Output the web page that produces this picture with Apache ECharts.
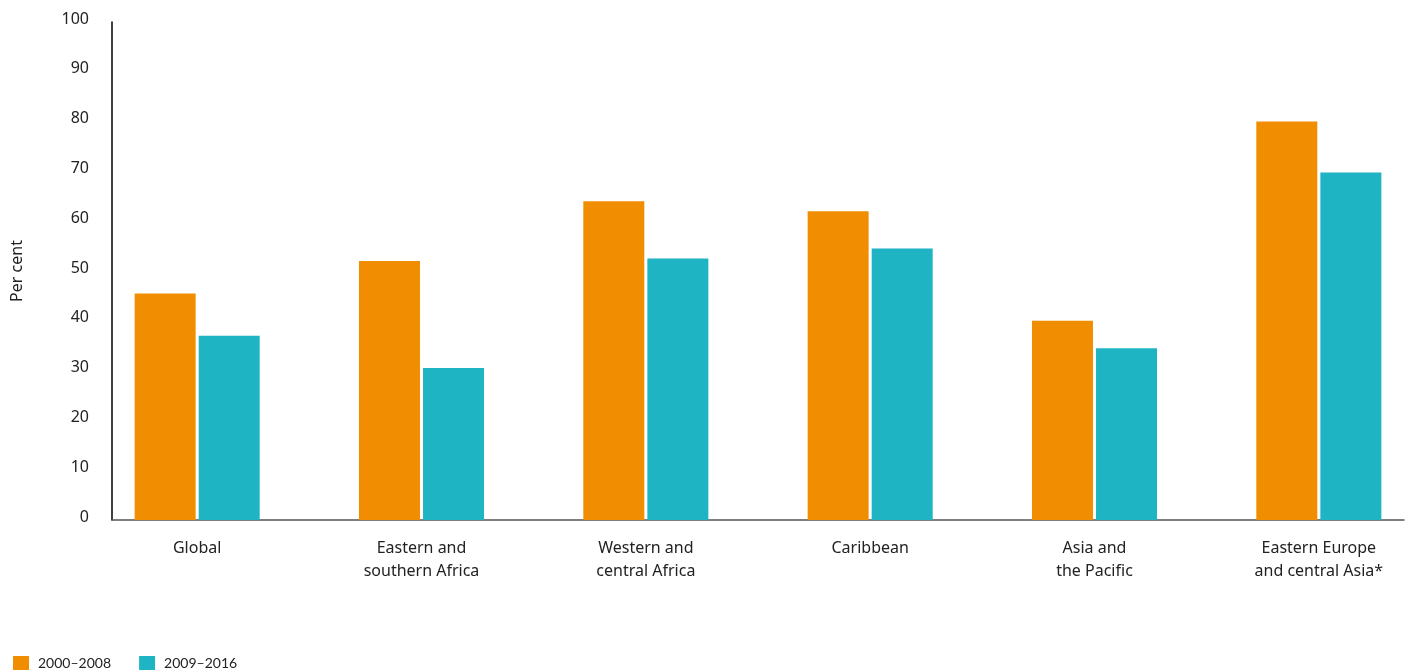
<!DOCTYPE html>
<html>
<head>
<meta charset="utf-8">
<script src="https://cdn.jsdelivr.net/npm/echarts@6/dist/echarts.min.js"></script>
<style>
html,body{margin:0;padding:0;background:#fff;}
#chart{width:1408px;height:671px;}
</style>
</head>
<body>
<div id="chart"></div>
<script>
var categories = ['Global', 'Eastern and\nsouthern Africa', 'Western and\ncentral Africa', 'Caribbean', 'Asia and\nthe Pacific', 'Eastern Europe\nand central Asia*'];
var seriesNames = ['2000–2008', '2009–2016'];
var values2000_2008 = [45.5, 52, 64, 62, 40, 80];
var values2009_2016 = [37, 30.5, 52.5, 54.5, 34.5, 69.8];
var yTicks = [0, 10, 20, 30, 40, 50, 60, 70, 80, 90, 100];

var FONT = '"Noto Sans", Lato, sans-serif';
var chart = echarts.init(document.getElementById('chart'), null, {renderer: 'canvas'});
chart.setOption({
  animation: false,
  color: ['#F18D00', '#1FB4C3'],
  textStyle: {fontFamily: FONT},
  legend: {
    left: 8, top: 651, itemWidth: 16, itemHeight: 14, itemGap: 28,
    icon: 'rect',
    textStyle: {fontSize: 14, color: '#222', fontFamily: 'Lato, sans-serif', padding: [0, 0, 0, 4]},
    data: seriesNames
  },
  grid: [
    {left: 85, width: 1346, top: 22, height: 498, containLabel: false, outerBoundsMode: 'none'},
    {left: 112, right: 4, top: 22, height: 498, containLabel: false, outerBoundsMode: 'none'}
  ],
  xAxis: [
    {
      type: 'category', gridIndex: 0, data: categories,
      axisLine: {show: false}, axisTick: {show: false},
      axisLabel: {fontSize: 16, color: '#222', lineHeight: 23, margin: 17, fontFamily: FONT}
    },
    {
      type: 'value', gridIndex: 1, min: 0, max: 1,
      axisLine: {show: true, lineStyle: {color: '#555', width: 1.5}},
      axisTick: {show: false}, axisLabel: {show: false}, splitLine: {show: false}
    }
  ],
  yAxis: [
    {type: 'value', gridIndex: 0, min: 0, max: 100, interval: 10, show: false},
    {
      type: 'value', gridIndex: 1, min: yTicks[0], max: yTicks[yTicks.length - 1], interval: 10,
      name: 'Per cent', nameLocation: 'middle', nameGap: 87, nameRotate: 90,
      nameTextStyle: {fontSize: 16, color: '#222', fontFamily: FONT},
      axisLine: {show: true, lineStyle: {color: '#000', width: 1.5}},
      axisTick: {show: false}, splitLine: {show: false},
      axisLabel: {fontSize: 16, color: '#222', margin: 23, fontFamily: FONT, verticalAlign: 'bottom', padding: [0, 0, -5, 0]}
    }
  ],
  series: [
    {name: seriesNames[0], type: 'bar', xAxisIndex: 0, yAxisIndex: 0, data: values2000_2008, barWidth: 61, barGap: '5%'},
    {name: seriesNames[1], type: 'bar', xAxisIndex: 0, yAxisIndex: 0, data: values2009_2016, barWidth: 61, barGap: '5%'}
  ]
});
</script>
</body>
</html>
